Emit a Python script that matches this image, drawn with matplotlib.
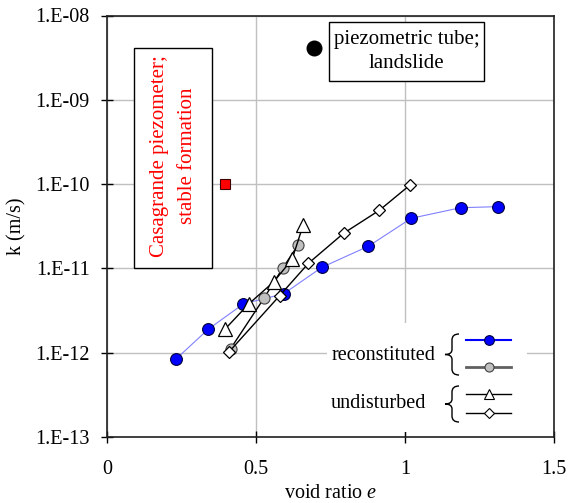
import numpy as np
import matplotlib
matplotlib.use('Agg')
import matplotlib.pyplot as plt
from matplotlib.patches import Rectangle, PathPatch
from matplotlib.path import Path
from matplotlib.lines import Line2D
from matplotlib.ticker import FuncFormatter, FixedLocator

plt.rcParams['font.family'] = ['Liberation Serif', 'DejaVu Serif']
plt.rcParams['font.size'] = 14.5
plt.rcParams['mathtext.fontset'] = 'custom'
plt.rcParams['mathtext.rm'] = 'Liberation Serif'
plt.rcParams['mathtext.it'] = 'Liberation Serif:italic'

# reconstituted (blue)
e_rec1 = [0.233, 0.339, 0.458, 0.593, 0.721, 0.877, 1.021, 1.187, 1.312]
k_rec1 = [8.5e-13, 1.89e-12, 3.8e-12, 5.0e-12, 1.03e-11, 1.83e-11, 3.93e-11, 5.25e-11, 5.4e-11]
# reconstituted (grey)
e_rec2 = [0.415, 0.528, 0.589, 0.642]
k_rec2 = [1.12e-12, 4.5e-12, 1.0e-11, 1.91e-11]
# undisturbed (triangles)
e_und1 = [0.397, 0.476, 0.559, 0.621, 0.658]
k_und1 = [1.92e-12, 3.8e-12, 6.9e-12, 1.28e-11, 3.25e-11]
# undisturbed (diamonds)
e_und2 = [0.408, 0.579, 0.676, 0.794, 0.914, 1.016]
k_und2 = [1.01e-12, 4.73e-12, 1.15e-11, 2.61e-11, 4.89e-11, 9.7e-11]
# field measurements
e_casa = [0.396]
k_casa = [1.0e-10]
e_tube = [0.695]
k_tube = [4.07e-9]

W, H = 568, 503
fig = plt.figure(figsize=(W / 100, H / 100), dpi=100)
L, R, T, B = 107, 554, 15.5, 437
ax = fig.add_axes([L / W, 1 - B / H, (R - L) / W, (B - T) / H])

def px(x, y):
    # pixel position -> axes fraction
    return (x - L) / (R - L), (B - y) / (B - T)

ax.set_yscale('log')
ax.set_xlim(0, 1.5)
ax.set_ylim(1e-13, 1e-8)
ax.set_xticks([0, 0.5, 1, 1.5])
ax.set_xticklabels(['0', '0.5', '1', '1.5'])
ax.yaxis.set_major_locator(FixedLocator([1e-13, 1e-12, 1e-11, 1e-10, 1e-9, 1e-8]))
ax.yaxis.set_minor_locator(FixedLocator([]))
ax.yaxis.set_major_formatter(FuncFormatter(lambda v, p: "1.E%03d" % int(round(np.log10(v)))))
ax.grid(True, color='#c0c0c0', lw=1.0)
ax.set_axisbelow(True)
ax.tick_params(axis='x', direction='inout', length=9, width=1, pad=12)
ax.tick_params(axis='y', direction='inout', length=9, width=1, pad=8)
for s in ax.spines.values():
    s.set_linewidth(1.2)
    s.set_color('#202020')

ax.plot(e_rec1, k_rec1, '-', color='#8080ff', lw=0.8, marker='o', ms=8.5,
        mfc='#0000ff', mec='#000040', mew=0.8, zorder=3)
ax.plot(e_rec2, k_rec2, '-', color='black', lw=1.0, marker='o', ms=8,
        mfc='#c0c0c0', mec='#404040', mew=0.8, zorder=4)
ax.plot(e_und1, k_und1, '-', color='black', lw=1.0, marker='^', ms=9.5,
        mfc='white', mec='black', mew=0.9, zorder=5)
ax.plot(e_und2, k_und2, '-', color='black', lw=1.0, marker='D', ms=6.5,
        mfc='white', mec='black', mew=0.9, zorder=6)
ax.plot(e_casa, k_casa, 's', ms=7.5, mfc='#ff0000', mec='#400000', mew=0.8, zorder=5)
ax.plot(e_tube, k_tube, 'o', ms=10.5, mfc='black', mec='black', zorder=5)

# annotation boxes
x0, y0 = px(134.3, 267.7)
x1, y1 = px(212.3, 47.7)
ax.add_patch(Rectangle((x0, y0), x1 - x0, y1 - y0, transform=ax.transAxes,
                       fc='white', ec='black', lw=1.0, zorder=2))
ax.text((x0 + x1) / 2, (y0 + y1) / 2 + 0.005, 'Casagrande piezometer;\nstable formation',
        transform=ax.transAxes, rotation=90, ha='center', va='center',
        color='red', fontsize=15, linespacing=1.6, zorder=3)

x0, y0 = px(329.3, 81)
x1, y1 = px(484.3, 21.7)
ax.add_patch(Rectangle((x0, y0), x1 - x0, y1 - y0, transform=ax.transAxes,
                       fc='white', ec='black', lw=1.0, zorder=2))
ax.text((x0 + x1) / 2, (y0 + y1) / 2, 'piezometric tube;\nlandslide',
        transform=ax.transAxes, ha='center', va='center',
        color='black', fontsize=15, linespacing=1.4, zorder=3)

# legend block
x0, y0 = px(327, 432)
x1, y1 = px(527, 323)
ax.add_patch(Rectangle((x0, y0), x1 - x0, y1 - y0, transform=ax.transAxes,
                       fc='white', ec='none', zorder=2))
tx, ty = px(383, 355)
ax.text(tx, ty, 'reconstituted', transform=ax.transAxes, ha='center', va='center', zorder=3)
tx, ty = px(378, 403)
ax.text(tx, ty, 'undisturbed', transform=ax.transAxes, ha='center', va='center', zorder=3)

def brace(xl, xr, ytop, ybot):
    ym = (ytop + ybot) / 2
    xm = (xl + xr) / 2
    pts = [(xr, ytop), (xm, ytop), (xm, ytop + 6), (xm, ym - 5), (xm, ym), (xl, ym),
           (xm, ym), (xm, ym + 5), (xm, ybot - 6), (xm, ybot), (xr, ybot)]
    codes = [Path.MOVETO, Path.CURVE3, Path.CURVE3, Path.LINETO, Path.CURVE3, Path.CURVE3,
             Path.CURVE3, Path.CURVE3, Path.LINETO, Path.CURVE3, Path.CURVE3]
    verts = [px(a, b) for a, b in pts]
    ax.add_patch(PathPatch(Path(verts, codes), transform=ax.transAxes, fc='none',
                           ec='black', lw=1.0, zorder=3))

brace(445, 459, 334, 375)
brace(445, 459, 386, 422)

handles = [
    dict(color='#0000ff', lw=1.5, marker='o', ms=7, mfc='#0000ff', mec='#000040', y=339.7),
    dict(color='#606060', lw=2.0, marker='o', ms=6.5, mfc='#c0c0c0', mec='#404040', y=367.3),
    dict(color='black', lw=1.0, marker='^', ms=7, mfc='white', mec='black', y=394.3),
    dict(color='black', lw=1.0, marker='D', ms=5, mfc='white', mec='black', y=413.3),
]
for h in handles:
    yy = h.pop('y')
    xa, ya = px(466, yy)
    xb, _ = px(511, yy)
    xc, _ = px(488.5, yy)
    ax.add_line(Line2D([xa, xb], [ya, ya], transform=ax.transAxes, color=h['color'],
                       lw=h['lw'], zorder=3))
    ax.add_line(Line2D([xc], [ya], transform=ax.transAxes, ls='none', marker=h['marker'],
                       ms=h['ms'], mfc=h['mfc'], mec=h['mec'], mew=0.8, zorder=4))

ax.set_xlabel('void ratio $\\it{e}$', labelpad=4)
ax.set_ylabel('k (m/s)', labelpad=6)

fig.savefig('out.png', dpi=100)
